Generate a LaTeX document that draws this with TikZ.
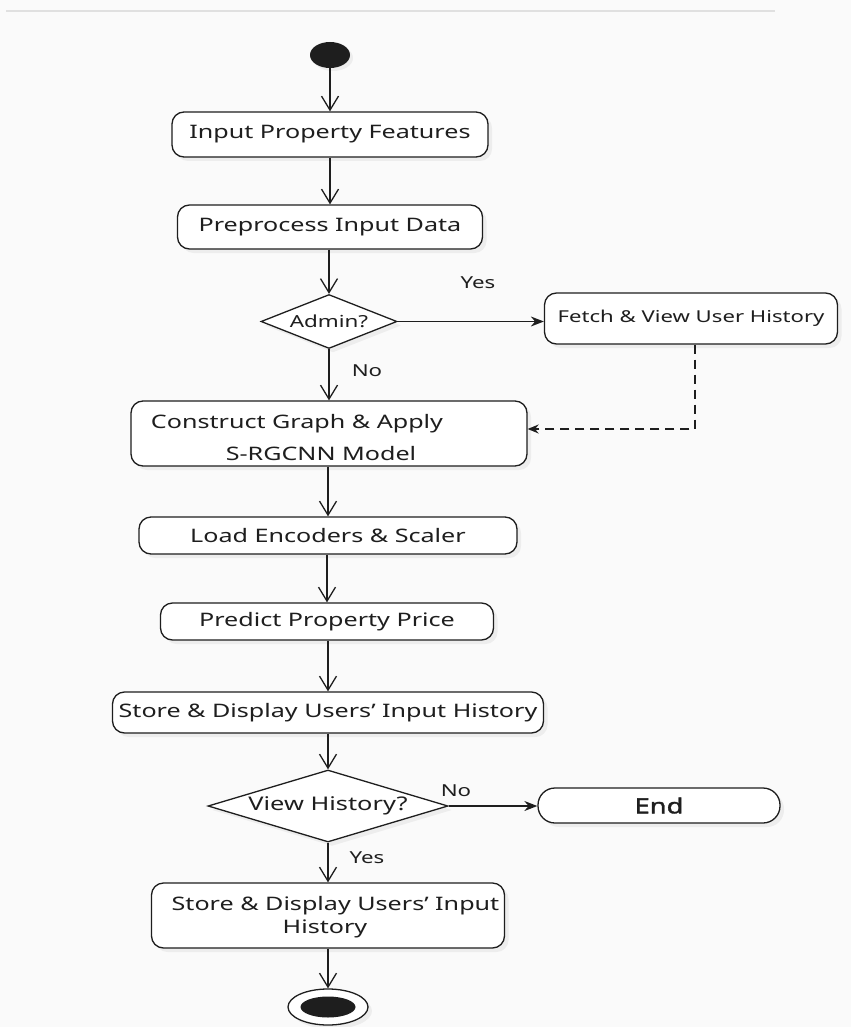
\documentclass[tikz,border=0pt]{standalone}
\usepackage{fontspec}
\setmainfont{Noto Sans}[FakeStretch=1.35]
\newfontfamily\heavyfont{Noto Sans}[FakeStretch=1.3, FakeBold=1.6]
\usetikzlibrary{arrows.meta,shapes.geometric,shadows}
\definecolor{paper}{HTML}{FAFAFA}
\definecolor{ink}{HTML}{1E1E1E}
\begin{document}
\begin{tikzpicture}[x=1pt,y=-1pt,
  txt/.style={font=\fontsize{18.6}{22}\selectfont, text=ink, inner sep=0pt},
  soft/.style={drop shadow={opacity=0.10, shadow xshift=4pt, shadow yshift=-4pt}},
  actbox/.style={draw=ink, line width=1.3pt, rounded corners=12pt, fill=white, soft,
    inner sep=0pt, txt},
  decision/.style={draw=ink, line width=1.3pt, diamond, fill=white, soft,
    inner sep=0pt, txt},
  flow/.style={draw=ink, line width=1.4pt,
    -{Straight Barb[length=14pt,width=17pt,line width=1.3pt]}},
  side/.style={draw=ink, line width=1.4pt, -{Stealth[length=13pt,width=10pt]}},
  lbl/.style={txt, font=\fontsize{16.5}{20}\selectfont}
]
% page
\fill[paper] (0,0) rectangle (851,1027);
\useasboundingbox (0,0) rectangle (851,1027);
\draw[black!12, line width=2pt] (6,11) -- (775,11);

% start
\node[ellipse, fill=ink, minimum width=40pt, minimum height=26pt, inner sep=0pt,
  drop shadow={opacity=0.10, shadow xshift=3pt, shadow yshift=-3pt}] (start) at (330,55) {};

% activities
\node[actbox, minimum width=316pt, minimum height=45pt] (input) at (330,134.5) {Input Property Features};
\node[actbox, minimum width=305pt, minimum height=44pt] (prep) at (330,227) {Preprocess Input Data};
\node[decision, aspect=2.53, minimum width=136pt, minimum height=54pt,
  font=\fontsize{16.6}{20}\selectfont] (admin) at (329,321.5) {Admin?};
\node[actbox, minimum width=293pt, minimum height=51pt,
  font=\fontsize{16.4}{20}\selectfont] (fetch) at (691,318.5) {Fetch \& View User History};
\node[actbox, minimum width=396pt, minimum height=65pt] (graph) at (329,433.5) {};
\node[txt, anchor=base] (graphA) at (297,428) {Construct Graph \& Apply};
\node[txt, anchor=base] (graphB) at (321,460) {S-RGCNN Model};
\node[actbox, minimum width=378pt, minimum height=37pt] (load) at (328,535.5) {Load Encoders \& Scaler};
\node[actbox, minimum width=333pt, minimum height=37pt] (pred) at (327,621.5) {Predict Property Price};
\node[actbox, minimum width=431pt, minimum height=41pt] (store) at (328,712.5) {Store \& Display Users’ Input History};
\node[decision, aspect=3.33, minimum width=240pt, minimum height=72pt,
  font=\fontsize{18.8}{22}\selectfont] (view) at (328,806) {View History?};
\node[actbox, rounded corners=17pt, minimum width=242pt, minimum height=35pt,
  font=\fontsize{21}{24}\heavyfont] (end) at (659,805.5) {End};
\node[actbox, minimum width=353pt, minimum height=65pt] (store2) at (328,915.5) {};
\node[txt, anchor=base] (store2A) at (335.5,910) {Store \& Display Users’ Input};
\node[txt, anchor=base] (store2B) at (325,933) {History};

% final node
\node[ellipse, draw=ink, line width=1.3pt, fill=white, minimum width=80pt, minimum height=36pt,
  inner sep=0pt, soft] (final) at (328,1007) {};
\node[ellipse, fill=ink, minimum width=55pt, minimum height=21pt, inner sep=0pt] (finalcore) at (final.center) {};

% connectors
\draw[flow] (start) -- (input.north -| start);
\draw[flow] (input.south -| prep.north) -- (prep.north);
\draw[flow] (prep.south -| admin.north) -- (admin.north);
\draw[side] (admin.east) -- (fetch.west |- admin.east);
\draw[flow] (admin.south) -- (graph.north -| admin.south);
\coordinate (turn) at (695,429);
\draw[draw=ink, line width=1.4pt, dash pattern=on 9pt off 6pt, -{Stealth[length=11pt,width=9pt]}]
  (fetch.south -| turn) -- (turn) -- (graph.east |- turn);
\draw[flow] (graph.south -| load.north) -- (load.north);
\draw[flow] (load.south -| pred.north) -- (pred.north);
\draw[flow] (pred.south -| store.north) -- (store.north);
\draw[flow] (store.south -| view.north) -- (view.north);
\draw[side] (view.east) -- (end.west |- view.east);
\draw[flow] (view.south) -- (store2.north -| view.south);
\draw[flow] (store2.south -| final.north) -- (final.north);

% branch labels
\node[lbl] (yes1) at (478,283) {Yes};
\node[lbl] (no1) at (367,371) {No};
\node[lbl] (no2) at (456,791) {No};
\node[lbl] (yes2) at (367,858) {Yes};
\end{tikzpicture}
\end{document}
